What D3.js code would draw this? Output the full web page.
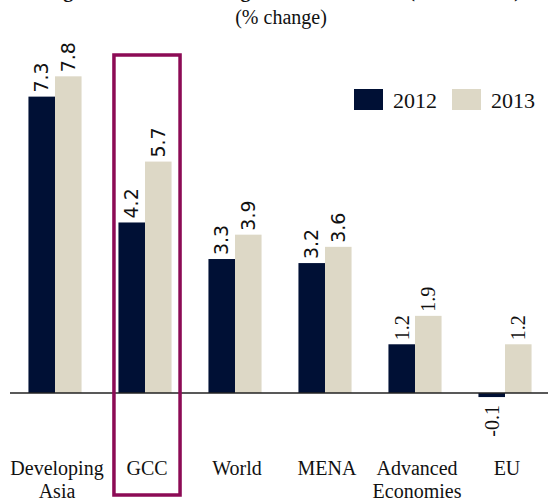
<!DOCTYPE html>
<html>
<head>
<meta charset="utf-8">
<script src="https://cdn.jsdelivr.net/npm/d3@7"></script>
<style>
  html, body { margin: 0; padding: 0; background: #fff; }
  svg { display: block; }
</style>
</head>
<body>
<svg id="chart" width="548" height="500"></svg>
<script>
// ---- data ----
const categories = ["Developing Asia", "GCC", "World", "MENA", "Advanced Economies", "EU"];
const series = ["2012", "2013"];
const values2012 = [7.3, 4.2, 3.3, 3.2, 1.2, -0.1];
const values2013 = [7.8, 5.7, 3.9, 3.6, 1.9, 1.2];
const highlighted = "GCC";
const titleText = "Figure 3: Real GDP growth forecasts (2012-2013)";
const subtitleText = "(% change)";

// ---- layout ----
const W = 548, H = 500;
const colors = { "2012": "#001035", "2013": "#ddd8c6" };
const serif = "'Liberation Serif', 'Times New Roman', serif";
const sans = "'DejaVu Sans', Verdana, sans-serif";

const svg = d3.select("#chart");

const x0 = d3.scaleBand().domain(categories).range([10, 550])
  .paddingInner(0.41).paddingOuter(0.205);
const x1 = d3.scaleBand().domain(series).range([0, x0.bandwidth()]).padding(0);
const y = d3.scaleLinear().domain([0, 8]).range([393, 393 - 8 * 40.6]);

const table = categories.map((c, i) => ({
  cat: c,
  vals: [{ s: "2012", v: values2012[i] }, { s: "2013", v: values2013[i] }]
}));

// title (cut off at the top of the picture, as in the reference)
svg.append("text")
  .attr("x", 43).attr("y", -3.5)
  .attr("textLength", 478).attr("lengthAdjust", "spacing")
  .style("font-family", serif).attr("font-weight", "bold").attr("font-size", 20)
  .attr("fill", "#111")
  .text(titleText);

svg.append("text")
  .attr("x", 281).attr("y", 24)
  .attr("text-anchor", "middle")
  .style("font-family", serif).attr("font-size", 20)
  .attr("fill", "#111")
  .text(subtitleText);

// bars
const groups = svg.append("g").selectAll("g").data(table).join("g")
  .attr("transform", d => `translate(${x0(d.cat)},0)`);

groups.selectAll("rect").data(d => d.vals).join("rect")
  .attr("x", d => x1(d.s))
  .attr("width", x1.bandwidth())
  .attr("y", d => Math.min(y(d.v), y(0)))
  .attr("height", d => Math.abs(y(d.v) - y(0)))
  .attr("fill", d => colors[d.s]);

// value labels
const fmt = v => d3.format(".1f")(v).replace("\u2212", "-");
groups.selectAll("text.val").data(d => d.vals).join("text")
  .attr("class", "val")
  .attr("transform", d => {
    const cx = x1(d.s) + x1.bandwidth() / 2;
    const ty = d.v >= 0 ? y(d.v) - 4 : y(d.v) + 8;
    return `translate(${cx},${ty}) rotate(-90)`;
  })
  .attr("text-anchor", d => d.v >= 0 ? "start" : "end")
  .attr("dy", "0.35em")
  .style("font-family", d => d.v < 2 ? serif : sans)
  .attr("font-size", d => d.v < 2 ? 20 : 19)
  .attr("fill", "#111")
  .text(d => fmt(d.v));

// zero axis line
svg.append("line")
  .attr("x1", 10).attr("x2", 548)
  .attr("y1", y(0)).attr("y2", y(0))
  .attr("stroke", "#222").attr("stroke-width", 1.5);

// category labels
const catLabels = svg.append("g").selectAll("text").data(categories).join("text")
  .attr("text-anchor", "middle")
  .style("font-family", serif).attr("font-size", 20)
  .attr("fill", "#111");
catLabels.each(function (c) {
  const t = d3.select(this);
  const cx = x0(c) + x0.bandwidth() / 2 + 2;
  const parts = (c === "Developing Asia" || c === "Advanced Economies") ? c.split(" ") : [c];
  parts.forEach((p, i) => {
    t.append("tspan").attr("x", cx).attr("y", 475 + i * 22.5).text(p);
  });
});

// highlight box
const hx = x0(highlighted);
svg.append("rect")
  .attr("x", hx - 4.5).attr("y", 55)
  .attr("width", x0.bandwidth() + 13).attr("height", 440)
  .attr("fill", "none")
  .attr("stroke", "#8c0b55").attr("stroke-width", 3.5);

// legend
const legend = svg.append("g");
const legendX = [354, 452];
series.forEach((s, i) => {
  legend.append("rect")
    .attr("x", legendX[i]).attr("y", 89)
    .attr("width", 29).attr("height", 21)
    .attr("fill", colors[s]);
  legend.append("text")
    .attr("x", legendX[i] + 39).attr("y", 108)
    .style("font-family", serif).attr("font-size", 22)
    .attr("fill", "#111")
    .text(s);
});
</script>
</body>
</html>
